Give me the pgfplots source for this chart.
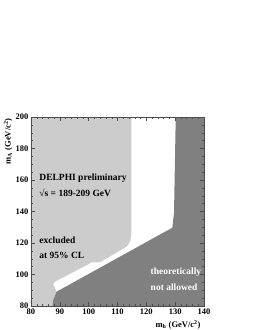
\documentclass[border=0pt]{standalone}
\usepackage{fontspec}
\setmainfont{Liberation Serif}
\usepackage{pgfplots}
\pgfplotsset{compat=1.18}
\definecolor{lgray}{RGB}{204,204,204}
\definecolor{dgray}{RGB}{128,128,128}
\begin{document}
\begin{tikzpicture}[x=1pt,y=1pt]
\path[use as bounding box] (-31,-24) rectangle (224,306);
\begin{axis}[
  at={(0,0)}, anchor=south west,
  scale only axis, width=173pt, height=189pt,
  xmin=80, xmax=140, ymin=80, ymax=200,
  xtick={80,90,...,140}, ytick={80,100,...,200},
  minor x tick num=4, minor y tick num=3,
  tick align=inside,
  major tick length=4pt, minor tick length=2pt,
  axis on top,
  axis line style={draw=black!70, line width=0.4pt},
  tick style={black!70, line width=0.4pt},
  /pgf/number format/assume math mode=true,
  tick label style={font=\fontsize{8.5}{9}\selectfont\bfseries},
  xticklabel style={yshift=1pt},
  yticklabel style={xshift=1pt},
  xlabel={m\textsubscript{h} (GeV/c\textsuperscript{2})},
  ylabel={m\textsubscript{A} (GeV/c\textsuperscript{2})},
  label style={font=\fontsize{8.5}{9}\selectfont\bfseries},
  xlabel style={at={(rel axis cs:1,0)}, anchor=north east, yshift=-11pt},
  ylabel style={at={(rel axis cs:0,1)}, anchor=south east, yshift=15pt, xshift=2pt},
]
\addplot[fill=lgray, draw=none] coordinates {
  (80,80) (80,200) (114.8,200) (114.8,126) (114.4,121) (113.2,117.7)
  (103.9,107.7) (101.0,107.7) (99.9,106.5) (88.3,95.4) (87.7,93.8)
  (88.9,89.1) (87.7,83.8) (87.4,80)
} -- cycle;
\addplot[fill=dgray, draw=none] coordinates {
  (87.4,80) (87.7,83.8) (88.9,89.1) (129.0,129.7) (129.6,139) (130.2,200)
  (140,200) (140,80)
} -- cycle;
\node[anchor=west, font=\fontsize{9.5}{10}\selectfont\bfseries] at (axis cs:81.7,161) {DELPHI preliminary};
\node[anchor=west, font=\fontsize{9.5}{10}\selectfont\bfseries] at (axis cs:81.7,152) {√s = 189-209 GeV};
\node[anchor=west, font=\fontsize{9.5}{10}\selectfont\bfseries] at (axis cs:81.7,121.5) {excluded};
\node[anchor=west, font=\fontsize{9.5}{10}\selectfont\bfseries] at (axis cs:81.7,112.4) {at 95\% CL};
\node[anchor=west, text=white, font=\fontsize{9.5}{10}\selectfont\bfseries] at (axis cs:120.3,101.2) {theoretically};
\node[anchor=west, text=white, font=\fontsize{9.5}{10}\selectfont\bfseries] at (axis cs:120.3,91.6) {not allowed};
\end{axis}
\end{tikzpicture}
\end{document}
